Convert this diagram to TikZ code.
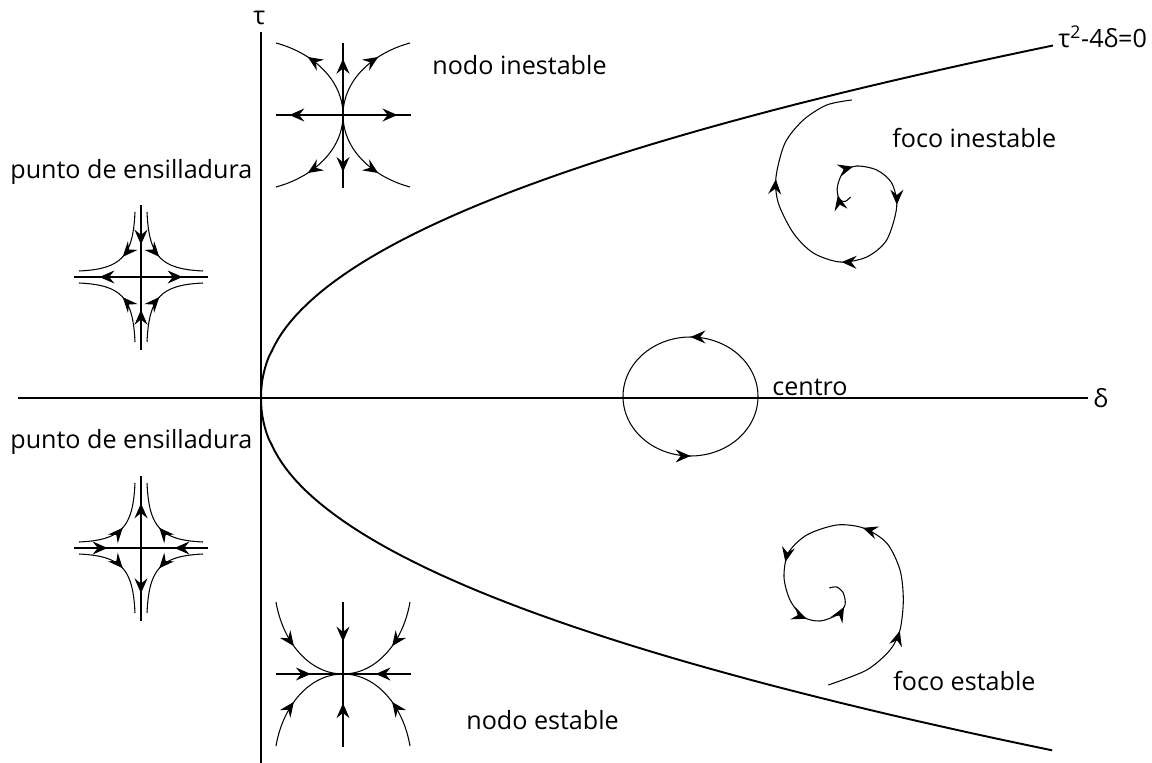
\documentclass[tikz,border=0pt]{standalone}
\usepackage{fontspec}
\setmainfont{Open Sans}
\usetikzlibrary{arrows.meta,decorations.markings}
\tikzset{
  flowtip/.tip={Stealth[length=8.5pt,width=7.4pt,inset=3pt]},
  axis/.style={line width=1.1pt},
  flow/.style={line width=0.6pt},
  tipat/.style={postaction={decorate,decoration={markings,mark=at position #1 with {\arrow{flowtip}}}}},
  lbl/.style={anchor=base west, inner sep=0pt, font=\fontsize{14.3}{17}\selectfont},
}
\begin{document}
\begin{tikzpicture}[x=.02cm, y=-.02cm]
  \useasboundingbox (0,0) rectangle (1152,763);
  % axes and the curve tau^2-4delta=0
  \draw[axis] (18,398) -- (1088,398);
  \draw[axis] (261,32) -- (261,763);
  \draw[axis] plot[domain=-1:1, samples=121] ({261+792*abs(\x)^2.15}, {398+352.5*\x});
  \node[lbl] (lblTau) at (253,25) {τ};
  \node[lbl] (lblDelta) at (1093,407) {δ};
  \node[lbl] (lblCurve) at (1058,48) {τ\textsuperscript{2}-4δ=0};

  % saddle, upper
  \begin{scope}[shift={(141,277)}]
    \draw[flow, tipat=0.55] (0,-72) -- (0,0);
    \draw[flow, tipat=0.55] (0,73) -- (0,0);
    \draw[flow, tipat=0.62] (0,0) -- (-67,0);
    \draw[flow, tipat=0.62] (0,0) -- (67,0);
    \foreach \sx/\sy in {-1/-1,1/-1,-1/1,1/1}
      \draw[flow, tipat=0.5] (6*\sx,65*\sy) .. controls (8*\sx,20*\sy) and (20*\sx,8*\sy) .. (62*\sx,6*\sy);
  \end{scope}
  % saddle, lower
  \begin{scope}[shift={(141,548)}]
    \draw[flow, tipat=0.62] (0,0) -- (0,-72);
    \draw[flow, tipat=0.62] (0,0) -- (0,73);
    \draw[flow, tipat=0.5] (-67,0) -- (0,0);
    \draw[flow, tipat=0.5] (67,0) -- (0,0);
    \foreach \sx/\sy in {-1/-1,1/-1,-1/1,1/1}
      \draw[flow, tipat=0.5] (62*\sx,6*\sy) .. controls (20*\sx,8*\sy) and (8*\sx,20*\sy) .. (6*\sx,65*\sy);
  \end{scope}
  % unstable node
  \begin{scope}[shift={(343,115)}]
    \draw[flow, tipat=0.78] (0,0) -- (0,-72);
    \draw[flow, tipat=0.78] (0,0) -- (0,73);
    \draw[flow, tipat=0.8] (0,0) -- (-67,0);
    \draw[flow, tipat=0.8] (0,0) -- (68,0);
    \foreach \sx/\sy in {-1/-1,1/-1,-1/1,1/1}
      \draw[flow, tipat=0.67] (0,0) .. controls (0,35*\sy) and (30*\sx,62*\sy) .. (67*\sx,72*\sy);
  \end{scope}
  % stable node
  \begin{scope}[shift={(343,674)}]
    \draw[flow, tipat=0.55] (0,-72) -- (0,0);
    \draw[flow, tipat=0.6] (0,73) -- (0,0);
    \draw[flow, tipat=0.52] (-67,0) -- (0,0);
    \draw[flow, tipat=0.52] (68,0) -- (0,0);
    \foreach \sx/\sy in {-1/-1,1/-1,-1/1,1/1}
      \draw[flow, tipat=0.45] (67*\sx,72*\sy) .. controls (60*\sx,31*\sy) and (33*\sx,0) .. (0,0);
  \end{scope}
  % centre
  \draw[flow, tipat=0.25, tipat=0.75] plot[domain=0:360, samples=73, smooth] ({690.5+67.5*cos(\x)}, {396.5-59.5*sin(\x)});
  % unstable focus
  \draw[flow, tipat=0.04, tipat=0.12, tipat=0.27, tipat=0.47, tipat=0.73] plot[smooth] coordinates {
    (850.5,197) (845,201.5) (839,199) (837.3,187) (843.3,172) (856.7,166) (876.7,170)
    (891.7,183) (896.7,207) (886.7,240) (866.7,257) (840,262) (813.3,253) (793.3,233)
    (778.3,203) (776,177) (785,143) (803.3,120) (826.7,105) (851.7,100)};
  % stable focus
  \draw[flow, tipat=0.21, tipat=0.48, tipat=0.69, tipat=0.835, tipat=0.93] plot[smooth] coordinates {
    (828.3,685) (866.7,670) (890,650) (900,630) (903.3,600) (900,570) (886.7,543)
    (863.3,528) (836.7,525) (806.7,535) (788.3,553) (784,577) (790,600) (803.3,617)
    (820,621) (836.7,615) (845,605) (843.3,593) (836.7,587) (829.3,588)};

  \node[lbl] (lblNodeU) at (432,75) {nodo inestable};
  \node[lbl] (lblFocusU) at (892,148) {foco inestable};
  \node[lbl] (lblSaddleU) at (10,179) {punto de ensilladura};
  \node[lbl] (lblCentre) at (772,395) {centro};
  \node[lbl] (lblSaddleS) at (10,448) {punto de ensilladura};
  \node[lbl] (lblFocusS) at (893,690) {foco estable};
  \node[lbl] (lblNodeS) at (466,729) {nodo estable};
\end{tikzpicture}
\end{document}
